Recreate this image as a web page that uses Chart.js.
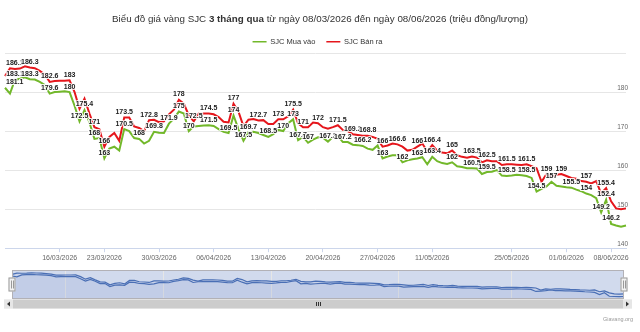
<!DOCTYPE html>
<html><head><meta charset="utf-8">
<script src="https://cdn.jsdelivr.net/npm/chart.js@4.4.1/dist/chart.umd.min.js"></script>
<style>
html,body{margin:0;padding:0;background:#fff;}
#wrap{position:relative;width:640px;height:332px;overflow:hidden;font-family:"Liberation Sans",Arial,sans-serif;}
#main{position:absolute;left:0;top:0;}
#nav{position:absolute;left:0;top:258px;}
#title{position:absolute;left:0;top:12px;width:640px;text-align:center;font-size:9.8px;line-height:14px;color:#333;}
#credit{position:absolute;right:7px;top:316px;font-size:5.5px;line-height:7px;color:#999;}
</style></head><body>
<div id="wrap">
<canvas id="main" width="640" height="332"></canvas>
<canvas id="nav" width="640" height="64"></canvas>
<div id="title">Biểu đồ giá vàng SJC <b>3 tháng qua</b> từ ngày 08/03/2026 đến ngày 08/06/2026 (triệu đồng/lượng)</div>
<div id="credit">Giavang.org</div>
</div>
<script>
// ---- data ----
const sellPrice = [184.1,186.1,185.9,186.0,186.6,186.3,186.1,185.4,184.5,182.6,
182.8,182.9,182.9,183,180.0,175.7,178.3,174.5,171,170.5,
166,168.5,169.5,167.5,173.5,173.5,171.2,170.8,170.0,172.8,
172.9,172.3,172.5,174.3,175.5,178,177.0,174.0,172.5,174.5,
174.5,174.5,174.3,173.6,172.4,172.2,177,175.0,171.2,172.9,
173.1,172.7,172.8,171.8,171.8,173,173.0,173.8,175.5,172.0,
171,171.0,172.2,172,171.0,170.6,171.0,171.5,170.3,170.0,
169.2,169.0,168.8,168.8,168.5,168.0,166,166.3,166.8,166.6,
166.0,165.0,165.2,166,166.8,164.8,166.4,165.0,164.5,164.3,
165,163.8,163.4,163.2,163.5,163.2,162.0,162.5,162.3,162.3,
161.3,161.5,161.5,161.4,161.3,161.5,161.0,160.5,157.0,159,
158.3,158.8,159,158.5,158.0,157.8,157.2,157,156.6,157.2,
154.0,155.4,152.0,150.2,150.0,150.2];
const buyPrice = [181.1,179.6,183.1,183.4,183.8,183.3,183.2,182.6,181.8,179.6,
180.0,180.1,180.2,180,176.5,172.5,175.4,172.2,168,168.2,
163,165.5,166.0,165.0,170.5,170.0,168.2,168,166.8,167.5,
169.8,169.6,169.5,171.9,173.2,175,174.5,170,171.2,171.3,
171.4,171.5,171.3,170.5,169.8,169.5,174,170.5,167.5,169.7,
169.8,169.5,169.0,168.5,169.2,170.3,170,172.0,173,167.7,
168.5,167,167.8,168.4,168.3,167.3,168.5,168.8,167.2,167.2,
166.5,166.4,166.2,165.5,165.2,166.3,163,163.5,163.8,163.8,
162,162.5,162.8,163,163.3,161.5,163.4,162.3,161.8,161.6,
162,161.0,160.8,160.5,160.5,160.4,159.0,159.5,159.6,160.0,
158.6,158.5,158.6,158.8,158.7,158.5,158.0,154.5,155.2,155.8,
157,156.0,155.8,155.6,155.5,155.0,154.6,154,153.6,152.8,
149.2,152.4,146.2,145.8,145.5,145.8];
const sellLabelIdx = [1,5,9,13,18,20,24,29,35,38,41,46,51,55,58,60,63,67,70,73,76,79,83,86,90,94,97,101,105,109,112,117,121];
const buyLabelIdx = [0,2,5,9,13,15,16,18,20,24,27,30,33,35,37,41,45,46,48,49,53,56,58,59,61,65,68,72,76,80,83,86,90,94,97,101,105,107,110,114,117,120,121,122];
const tickIndex = [11,20,31,42,53,64,75,86,102,113,122];
const tickLabels = ['16/03/2026','23/03/2026','30/03/2026','06/04/2026','13/04/2026','20/04/2026','27/04/2026','11/05/2026','25/05/2026','01/06/2026','08/06/2026'];
const navTickIndex = [11,31,53,79,102];
const navTickLabels = ['16. Tháng 3','30. Tháng 3','13. Tháng 4','4. Tháng 5','25. Tháng 5'];
const seriesNames = ['SJC Mua vào','SJC Bán ra'];

const categories = sellPrice.map((_, i) => { const k = tickIndex.indexOf(i); return k >= 0 ? tickLabels[k] : ''; });
const navCategories = sellPrice.map((_, i) => { const k = navTickIndex.indexOf(i); return k >= 0 ? navTickLabels[k] : ''; });

const FONT = '"Liberation Sans", Arial, sans-serif';
Chart.defaults.font.family = FONT;
const GREEN = '#72b82a';
const RED = '#e5161c';

const valueLabels = {
  id: 'valueLabels',
  afterDatasetsDraw(chart) {
    const {ctx, chartArea} = chart;
    ctx.save();
    ctx.font = 'bold 7px ' + FONT;
    ctx.textAlign = 'center';
    ctx.textBaseline = 'alphabetic';
    ctx.lineJoin = 'round';
    chart.data.datasets.forEach((ds, di) => {
      const meta = chart.getDatasetMeta(di);
      ds.labelIdx.forEach(i => {
        const pt = meta.data[i];
        if (!pt) return;
        const txt = String(ds.data[i]);
        const w = ctx.measureText(txt).width;
        const x = Math.max(chartArea.left + w / 2 + 1, Math.min(chartArea.right - w / 2, pt.x));
        const y = pt.y - 3.5;
        ctx.strokeStyle = 'rgba(255,255,255,0.9)';
        ctx.lineWidth = 2;
        ctx.strokeText(txt, x, y);
        ctx.fillStyle = '#1b1b1b';
        ctx.fillText(txt, x, y);
      });
    });
    ctx.restore();
  }
};

const legendShift = {
  id: 'legendShift',
  afterLayout(chart) {
    if (chart.legend) { chart.legend.top += 2.5; chart.legend.bottom += 2.5; }
  }
};

new Chart(document.getElementById('main'), {
  type: 'line',
  data: {
    labels: categories,
    datasets: [
      {label: seriesNames[0], data: buyPrice, borderColor: GREEN, backgroundColor: GREEN, borderWidth: 2, pointRadius: 0, tension: 0, labelIdx: buyLabelIdx},
      {label: seriesNames[1], data: sellPrice, borderColor: RED, backgroundColor: RED, borderWidth: 2, pointRadius: 0, tension: 0, labelIdx: sellLabelIdx}
    ]
  },
  options: {
    responsive: false, animation: false, devicePixelRatio: 1,
    layout: {padding: {top: 24.5, left: 5, right: 10, bottom: 67.4}},
    plugins: {
      legend: {
        display: true, position: 'top', align: 'center',
        labels: {
          font: {size: 7.5, family: FONT}, color: '#333', boxWidth: 14, boxHeight: 1.5, padding: 11,
          generateLabels: (chart) => Chart.defaults.plugins.legend.labels.generateLabels(chart).map(l => Object.assign(l, {fillStyle: l.strokeStyle, lineWidth: 0}))
        }
      },
      tooltip: {enabled: false},
      title: {display: false}
    },
    scales: {
      x: {
        type: 'category', offset: false,
        grid: {drawOnChartArea: false, drawTicks: true, tickLength: 4, color: c => (c.tick && c.tick.label) ? '#ccd6eb' : 'rgba(0,0,0,0)'},
        border: {color: '#ccd6eb'},
        ticks: {autoSkip: false, maxRotation: 0, minRotation: 0, padding: 2, color: '#666', font: {size: 7, family: FONT}, callback: (v, i) => categories[i]}
      },
      y: {
        position: 'right', min: 140, max: 190,
        grid: {color: '#e6e6e6', drawTicks: false},
        border: {display: false},
        ticks: {stepSize: 10, mirror: true, padding: 2, labelOffset: -4, color: '#666', font: {size: 6.5, family: FONT}, callback: v => v === 190 ? '' : String(v)}
      }
    }
  },
  plugins: [valueLabels, legendShift]
});

const navChrome = {
  id: 'navChrome',
  beforeDraw(chart) {
    const {ctx, chartArea: a} = chart;
    ctx.save();
    ctx.fillStyle = 'rgba(102,133,194,0.3)';
    ctx.fillRect(a.left, a.top, a.right - a.left, a.bottom - a.top);
    ctx.restore();
  },
  afterDraw(chart) {
    const {ctx, chartArea: a} = chart;
    ctx.save();
    ctx.strokeStyle = '#b2b1b6'; ctx.lineWidth = 1;
    ctx.strokeRect(a.left + 0.5, a.top + 0.5, a.right - a.left - 1, a.bottom - a.top - 1);
    const midY = (a.top + a.bottom) / 2;
    [a.left, a.right].forEach(hx => {
      ctx.fillStyle = '#f2f2f2'; ctx.strokeStyle = '#999';
      ctx.fillRect(hx - 3.5, midY - 7, 7, 14);
      ctx.strokeRect(hx - 3.5 + 0.5, midY - 7 + 0.5, 6, 13);
      ctx.beginPath();
      ctx.moveTo(hx - 1 + 0.5, midY - 4); ctx.lineTo(hx - 1 + 0.5, midY + 4);
      ctx.moveTo(hx + 1 + 0.5, midY - 4); ctx.lineTo(hx + 1 + 0.5, midY + 4);
      ctx.stroke();
    });
    const sy = a.bottom + 0.5, sh = 9;
    ctx.fillStyle = '#f2f2f2'; ctx.fillRect(4, sy, 628, sh);
    ctx.fillStyle = '#cccccc'; ctx.fillRect(13, sy, 610, sh);
    ctx.fillStyle = '#e6e6e6';
    ctx.fillRect(4, sy, 9, sh); ctx.fillRect(623, sy, 9, sh);
    ctx.fillStyle = '#333';
    ctx.beginPath(); ctx.moveTo(7, sy + sh / 2); ctx.lineTo(10, sy + sh / 2 - 2.5); ctx.lineTo(10, sy + sh / 2 + 2.5); ctx.closePath(); ctx.fill();
    ctx.beginPath(); ctx.moveTo(629, sy + sh / 2); ctx.lineTo(626, sy + sh / 2 - 2.5); ctx.lineTo(626, sy + sh / 2 + 2.5); ctx.closePath(); ctx.fill();
    ctx.strokeStyle = '#333';
    ctx.beginPath();
    [-2, 0, 2].forEach(d => { ctx.moveTo(318 + d + 0.5, sy + 2.5); ctx.lineTo(318 + d + 0.5, sy + sh - 2.5); });
    ctx.stroke();
    ctx.restore();
  }
};

new Chart(document.getElementById('nav'), {
  type: 'line',
  data: {
    labels: navCategories,
    datasets: [
      {data: buyPrice, borderColor: '#4a6fb5', backgroundColor: 'rgba(51,92,173,0.05)', fill: 'start', borderWidth: 1.2, pointRadius: 0, tension: 0},
      {data: sellPrice, borderColor: '#4a6fb5', backgroundColor: 'rgba(51,92,173,0.05)', fill: 'start', borderWidth: 1.2, pointRadius: 0, tension: 0}
    ]
  },
  options: {
    responsive: false, animation: false, devicePixelRatio: 1,
    layout: {padding: {left: 12, right: 16, top: 12, bottom: 23}},
    plugins: {legend: {display: false}, tooltip: {enabled: false}},
    scales: {
      x: {
        type: 'category', offset: false,
        grid: {drawTicks: false, color: c => (c.tick && c.tick.label) ? '#e6e6e6' : 'rgba(0,0,0,0)'},
        border: {display: false},
        ticks: {autoSkip: false, maxRotation: 0, minRotation: 0, align: 'start', padding: -10.5, labelOffset: 3, color: '#999', font: {size: 6.6, family: FONT}, callback: (v, i) => navCategories[i]},
        afterFit: s => { s.height = 0; }
      },
      y: {display: false, min: 141.5, max: 191.5}
    }
  },
  plugins: [navChrome]
});
</script>
</body></html>
